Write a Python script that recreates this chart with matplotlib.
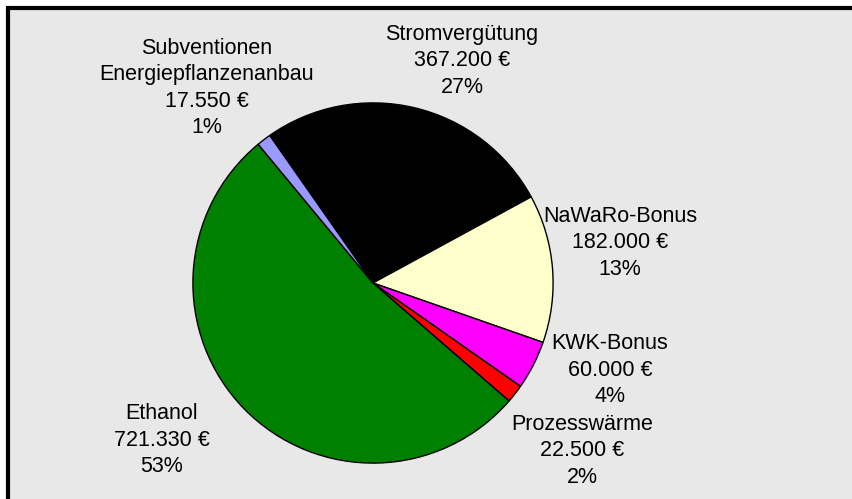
import matplotlib
matplotlib.use("Agg")
import matplotlib.pyplot as plt
from matplotlib.patches import Rectangle

# revenue shares, clockwise from the top
categories = ["Stromvergütung", "NaWaRo-Bonus", "KWK-Bonus", "Prozesswärme",
              "Ethanol", "Subventionen\nEnergiepflanzenanbau"]
values = [367200, 182000, 60000, 22500, 721330, 17550]
colors = ["#000000", "#ffffcc", "#ff00ff", "#ff0000", "#008000", "#9999ff"]

# label block centres in figure pixels (x, y from top)
label_pos = [(462, 61), (620, 243), (610, 370), (582, 451), (162, 440), (207, 88)]

W, H = 852, 499
plt.rcParams["font.family"] = ["Liberation Sans", "DejaVu Sans"]

fig = plt.figure(figsize=(W / 100, H / 100), dpi=100)
fig.patch.set_facecolor("white")

# grey chart area with a black frame on the left and top
fig.patches.append(Rectangle((7.5 / W, -0.05), 1.1, (H - 7.5) / H + 0.05,
                             transform=fig.transFigure, facecolor="#e8e8e8",
                             edgecolor="black", linewidth=3, zorder=-5))

cx, cy, r = 373, 283, 181
ax = fig.add_axes([(cx - r) / W, (H - cy - r) / H, 2 * r / W, 2 * r / H])
ax.set_facecolor("none")
ax.pie(values, colors=colors, startangle=125, counterclock=False,
       wedgeprops={"edgecolor": "black", "linewidth": 1.0})
ax.set_xlim(-1.005, 1.005)
ax.set_ylim(-1.005, 1.005)
ax.set_aspect("equal")

total = sum(values)
for name, v, (lx, ly) in zip(categories, values, label_pos):
    euro = f"{v:,}".replace(",", ".")
    pct = round(100 * v / total)
    fig.text(lx / W, 1 - ly / H, f"{name}\n{euro} €\n{pct}%",
             ha="center", va="center", fontsize=15.5, linespacing=1.34)

fig.savefig("out.png", dpi=100, facecolor="white")
